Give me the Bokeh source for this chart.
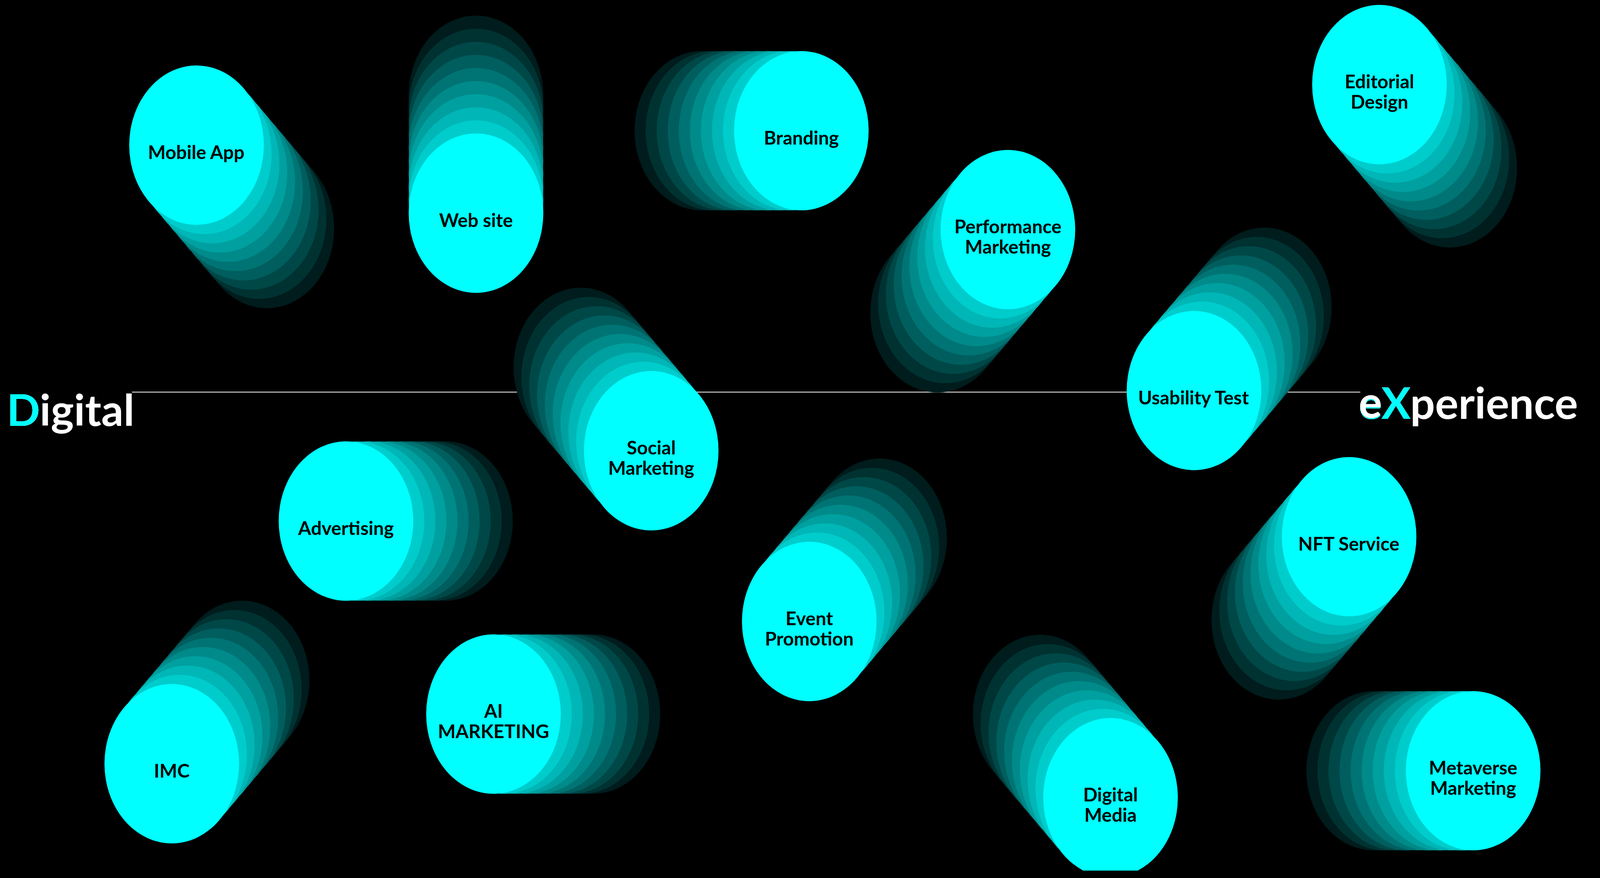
from bokeh.plotting import figure
from bokeh.models import Range1d, ColumnDataSource
from bokeh.embed import file_html
from bokeh.resources import INLINE
from bokeh.core.properties import value

# ---- data (reference-image pixel coordinates) ---------------------------
labels = ["Mobile App", "Web site", "Branding", "Editorial\nDesign",
          "Performance\nMarketing", "Usability Test", "Social\nMarketing",
          "Advertising", "Event\nPromotion", "NFT Service", "IMC",
          "AI\nMARKETING", "Digital\nMedia", "Metaverse\nMarketing"]
center_x = [595, 1442, 2428, 4180, 3054, 3618, 1973, 1048, 2452, 4088, 520, 1495, 3365, 4464]
center_y = [371, 545, 334, 216, 587, 999, 1153, 1333, 1590, 1373, 1954, 1827, 2041, 1972]
trail_dx = [1, 0, -1, 1, -1, 1, -1, 1, 1, -1, 1, 1, -1, -1]
trail_dy = [1, -1, 0, 1, 1, -1, -1, 0, -1, 1, -1, 0, -1, 0]
trail_shades = [0xcc, 0xb6, 0xa0, 0x8a, 0x74, 0x5e, 0x48, 0x32, 0x1c]  # nearest -> farthest

left_word = "Digital"
right_word = "eXperience"

# ---- layout / style -----------------------------------------------------
VIEW_W = 4096                 # real browser viewport width
REF_W = 4849
KX = VIEW_W / REF_W
W, H = 4080, 2220
R = 204
STEP = 33.5
CYAN = "#00ffff"
FONT = "Lato"

p = figure(width=W, height=H, output_backend="svg", toolbar_location=None,
           x_range=Range1d(8 / KX, (8 + W) / KX), y_range=Range1d(8 + H, 8),
           x_axis_location=None, y_axis_location=None,
           background_fill_color="#000000", border_fill_color="#000000",
           outline_line_color=None, min_border=0)
p.xgrid.visible = False
p.ygrid.visible = False

line_y = 1003
p.segment(x0=[399], y0=[line_y], x1=[4122], y1=[line_y], line_color="#ffffff", line_width=2)

for i, lab in enumerate(labels):
    norm = (trail_dx[i] ** 2 + trail_dy[i] ** 2) ** 0.5
    ux, uy = trail_dx[i] / norm, trail_dy[i] / norm
    xs, ys, cols = [], [], []
    for k in range(len(trail_shades), 0, -1):
        xs.append(center_x[i] + ux * STEP * k)
        ys.append(center_y[i] + uy * STEP * k)
        s = trail_shades[k - 1]
        cols.append("#00%02x%02x" % (s, s))
    xs.append(center_x[i]); ys.append(center_y[i]); cols.append(CYAN)
    p.ellipse(x="x", y="y", width=2 * R, height=2 * R, fill_color="c", line_color=None,
              source=ColumnDataSource(dict(x=xs, y=ys, c=cols)))

tx, ty, tt = [], [], []
LINE_H = 52
for i, lab in enumerate(labels):
    lines = lab.split("\n")
    n = len(lines)
    for j, ln in enumerate(lines):
        tx.append(center_x[i])
        ty.append(center_y[i] + 17 + (j - (n - 1) / 2) * LINE_H)
        tt.append(ln)
p.text(x="x", y="y", text="t", source=ColumnDataSource(dict(x=tx, y=ty, t=tt)),
       text_font=value(FONT), text_font_style="bold", text_font_size="48px",
       text_color="#000000", text_align="center", text_baseline="alphabetic")

big = dict(text_font=value(FONT), text_font_style="bold", text_font_size="112px",
           text_align="left", text_baseline="alphabetic")
p.text(x=[20], y=[1046], text=[left_word], text_color="#ffffff", **big)
p.text(x=[20], y=[1046], text=[left_word[:1]], text_color=CYAN, **big)
p.text(x=[4117], y=[1028], text=[right_word], text_color="#ffffff", **big)
p.text(x=[4117], y=[1028], text=[right_word[:2]], text_color=CYAN, **big)
p.text(x=[4117], y=[1028], text=[right_word[:1]], text_color="#ffffff", **big)

html = file_html(p, INLINE, title="Digital eXperience")
html = html.replace("</head>", "<style>html,body{background:#000000;} body{margin:8px;}</style></head>", 1)
open("out.html", "w").write(html)
